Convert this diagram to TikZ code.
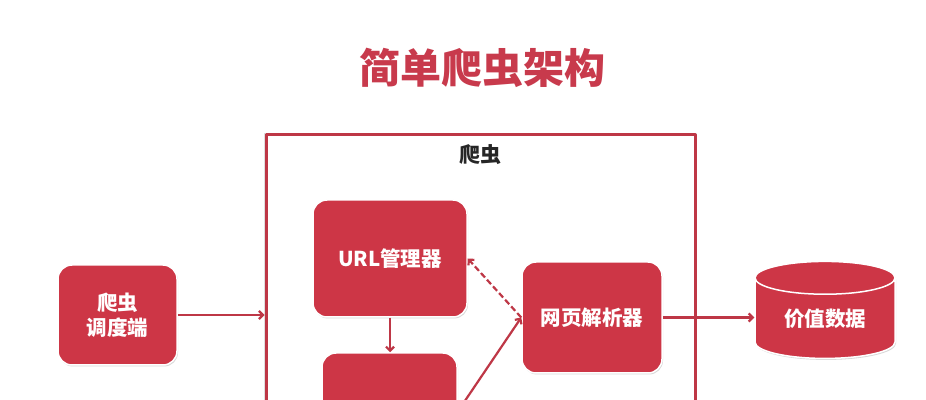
\documentclass[tikz,border=0pt]{standalone}
\usepackage{fontspec}
\newfontfamily\cjk{Noto Sans CJK SC}
\usetikzlibrary{shapes.geometric,shadows,arrows.meta}
\definecolor{boxred}{RGB}{205,54,70}
\definecolor{linered}{RGB}{190,55,70}
\definecolor{titlered}{RGB}{200,58,76}

\begin{document}
\begin{tikzpicture}[>={Straight Barb[length=4bp,width=8bp]},line join=bevel,
  redfill/.style={fill=boxred,draw=white,line width=1.5bp,
    drop shadow={opacity=0.3,shadow xshift=1bp,shadow yshift=-1.5bp},
    text=white,font=\cjk\bfseries\fontsize{20.5bp}{25bp}\selectfont,
    align=center,inner sep=0pt},
  redbox/.style={redfill,rectangle,rounded corners=14bp},
  crawlbox/.style={rectangle,draw=linered,line width=3bp,fill=white,
    drop shadow={opacity=0.25,shadow xshift=0bp,shadow yshift=0bp,shadow scale=1.01}},
  flow/.style={draw=linered,line width=2.2bp,->}]
  \clip (0bp,0bp) rectangle (926bp,400bp);
  \fill[white] (0bp,0bp) rectangle (926bp,400bp);
%%
  % Node: title
  \node[text=titlered,font=\cjk\bfseries\fontsize{41bp}{41bp}\selectfont] (title) at (482bp,332bp) {简单爬虫架构};
  % Node: crawler frame
  \node[crawlbox,minimum width=429bp,minimum height=350bp] (crawler) at (480.5bp,90bp) {};
  \node[font=\cjk\bfseries\fontsize{21bp}{21bp}\selectfont,text=black!85] (crawlname) at (480bp,245bp) {爬虫};
  % Node: scheduler
  \node[redbox,minimum width=119bp,minimum height=100bp] (sched) at (117.5bp,85bp) {爬虫\\调度端};
  % Node: URL manager
  \node[redbox,minimum width=154bp,minimum height=117bp] (url) at (390bp,141.5bp) {URL管理器};
  % Node: page parser
  \node[redbox,minimum width=140bp,minimum height=111bp] (parser) at (592bp,82.5bp) {网页解析器};
  % Node: page downloader
  \node[redbox,minimum width=135bp,minimum height=117bp] (down) at (389.5bp,-11.5bp) {};
  % Node: data store
  \node[redfill,cylinder,shape border rotate=90,aspect=0.4,
    minimum width=140bp,minimum height=97bp] (data) at (825bp,81.5bp) {价值数据};
%
  % Edge: sched -> crawler
  \draw[flow] (sched.east) -- (sched.east -| crawler.west);
  % Edge: url -> down
  \draw[flow] (url.south) -- (url.south |- down.north);
  % Edge: down -> parser
  \draw[flow] (down.east) -- (parser.west);
  % Edge: parser -> url
  \draw[flow,dashed,dash pattern=on 6bp off 3bp] (parser.west) -- (url.east);
  % Edge: parser -> data
  \draw[flow] (parser.east) -- (parser.east -| data.west);
%
\end{tikzpicture}
\end{document}
